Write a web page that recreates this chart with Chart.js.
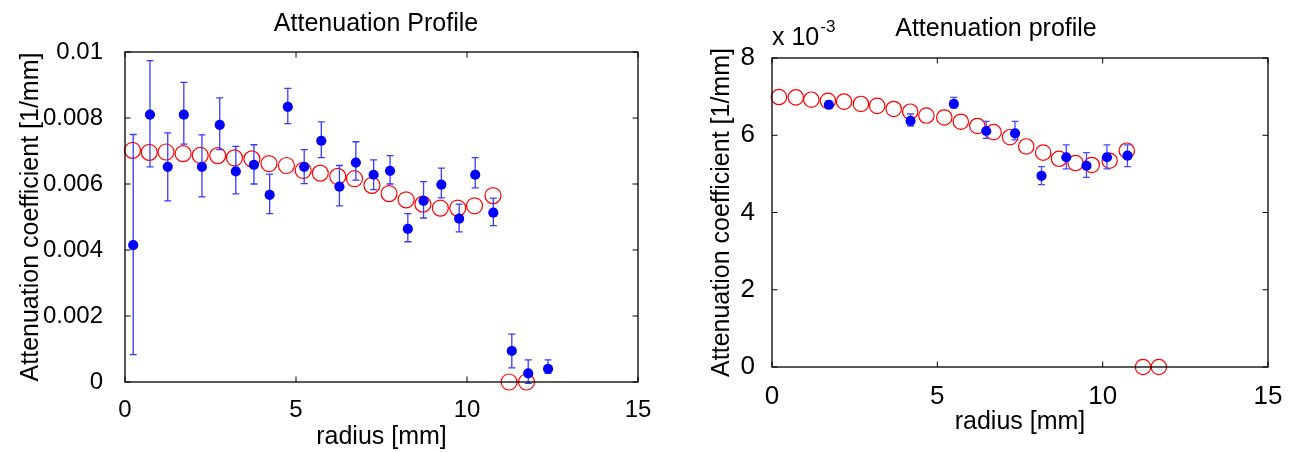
<!DOCTYPE html>
<html><head><meta charset="utf-8">
<script src="https://cdn.jsdelivr.net/npm/chart.js@4.4.0/dist/chart.umd.min.js"></script>
<style>
html,body{margin:0;padding:0;background:#fff;}
#wrap{position:relative;width:1294px;height:452px;background:#fff;}
canvas{position:absolute;left:0;top:0;}
</style></head><body>
<div id="wrap"><canvas id="c1" width="1294" height="452"></canvas><canvas id="c2" width="1294" height="452"></canvas></div>
<script>
// ---------- data: left panel ----------
const leftTitle = 'Attenuation Profile';
const rightTitle = 'Attenuation profile';
const xLabel = 'radius [mm]';
const yLabel = 'Attenuation coefficient [1/mm]';
const xTickValues = [0, 5, 10, 15];
const xTickLabels = ['0', '5', '10', '15'];
const leftYTickValues = [0, 0.002, 0.004, 0.006, 0.008, 0.01];
const leftYTickLabels = ['0', '0.002', '0.004', '0.006', '0.008', '0.01'];
const rightYTickValues = [0, 0.002, 0.004, 0.006, 0.008];
const rightYTickLabels = ['0', '2', '4', '6', '8'];

const leftMeasRadius = [0.24,0.73,1.25,1.72,2.25,2.77,3.24,3.77,4.23,4.76,5.24,5.74,6.27,6.75,7.27,7.75,8.27,8.73,9.25,9.77,10.24,10.77,11.31,11.79,12.37];
const leftMeasAtten  = [0.00415,0.0081,0.00652,0.0081,0.00652,0.00779,0.00638,0.00658,0.00567,0.00834,0.00652,0.00731,0.00592,0.00665,0.00628,0.0064,0.00464,0.00549,0.00598,0.00495,0.00628,0.00513,0.00094,0.00026,0.0004];
const leftErrUp      = [0.00335,0.00164,0.00103,0.00098,0.00097,0.00082,0.00076,0.00061,0.00063,0.00056,0.00052,0.00057,0.00064,0.00063,0.00045,0.00046,0.00046,0.00058,0.0005,0.00044,0.00052,0.00044,0.00051,0.00041,0.00027];
const leftErrDown    = [0.00332,0.00158,0.00103,0.00089,0.00091,0.00075,0.00068,0.00058,0.00057,0.00051,0.00051,0.00051,0.00058,0.00053,0.00045,0.0004,0.00039,0.00052,0.0004,0.0004,0.0004,0.00039,0.00051,0.0003,0.00014];
const leftModelRadius = [0.22,0.71,1.2,1.7,2.2,2.71,3.2,3.71,4.21,4.72,5.21,5.71,6.22,6.71,7.22,7.72,8.22,8.71,9.22,9.73,10.22,10.76,11.23,11.74];
const leftModelAtten  = [0.00702,0.00696,0.00697,0.00692,0.00687,0.00686,0.00679,0.00676,0.00662,0.00656,0.00641,0.00633,0.00623,0.00616,0.00596,0.00571,0.00552,0.00539,0.00527,0.00527,0.00534,0.00565,0,0];

// ---------- data: right panel ----------
const rightMeasRadius = [1.72,4.19,5.5,6.48,7.35,8.15,8.9,9.51,10.13,10.75];
const rightMeasAtten  = [0.00679,0.00637,0.00681,0.00611,0.00605,0.00495,0.00543,0.00521,0.00543,0.00547];
const rightErrUp      = [0.0001,0.00018,0.00017,0.00025,0.00031,0.00024,0.00032,0.00034,0.00032,0.00028];
const rightErrDown    = [0.0001,0.00013,0.0001,0.00019,0.00017,0.00023,0.0003,0.0003,0.0003,0.00028];
const rightModelRadius = [0.21,0.72,1.19,1.69,2.18,2.69,3.18,3.68,4.18,4.67,5.21,5.71,6.21,6.7,7.2,7.69,8.2,8.68,9.18,9.67,10.21,10.73,11.22,11.7];
const rightModelAtten  = [0.00699,0.00698,0.00692,0.00689,0.00687,0.00681,0.00676,0.00668,0.00661,0.00651,0.00646,0.00635,0.00624,0.00608,0.00595,0.00571,0.00555,0.00539,0.00528,0.00523,0.00534,0.0056,0,0];

const FONT = '"Liberation Sans", Arial, Helvetica, sans-serif';

const boxPlugin = {
  id: 'matlabBox',
  afterDraw(chart) {
    const ctx = chart.ctx, a = chart.chartArea, sx = chart.scales.x, sy = chart.scales.y;
    const tl = 5.5;
    ctx.save();
    ctx.strokeStyle = '#000';
    ctx.lineWidth = 1.3;
    ctx.strokeRect(a.left, a.top, a.right - a.left, a.bottom - a.top);
    ctx.beginPath();
    sx.ticks.forEach(t => {
      const p = sx.getPixelForValue(t.value);
      ctx.moveTo(p, a.bottom); ctx.lineTo(p, a.bottom - tl);
      ctx.moveTo(p, a.top); ctx.lineTo(p, a.top + tl);
    });
    sy.ticks.forEach(t => {
      const p = sy.getPixelForValue(t.value);
      ctx.moveTo(a.left, p); ctx.lineTo(a.left + tl, p);
      ctx.moveTo(a.right, p); ctx.lineTo(a.right - tl, p);
    });
    ctx.lineWidth = 1;
    ctx.stroke();
    ctx.restore();
  }
};

const errPlugin = {
  id: 'errBars',
  afterDatasetDraw(chart, args, opts) {
    if (args.index !== 1) return; // after the model circles, before the measured dots
    const ctx = chart.ctx, sx = chart.scales.x, sy = chart.scales.y;
    const cap = 3.5;
    ctx.save();
    ctx.strokeStyle = opts.color;
    ctx.lineWidth = 1.3;
    ctx.beginPath();
    opts.xs.forEach((xv, i) => {
      const px = sx.getPixelForValue(xv);
      const y1 = sy.getPixelForValue(opts.ys[i] + opts.up[i]);
      const y2 = sy.getPixelForValue(opts.ys[i] - opts.dn[i]);
      ctx.moveTo(px, y1); ctx.lineTo(px, y2);
      ctx.moveTo(px - cap, y1); ctx.lineTo(px + cap, y1);
      ctx.moveTo(px - cap, y2); ctx.lineTo(px + cap, y2);
    });
    ctx.stroke();
    ctx.restore();
  }
};

const textPlugin = {
  id: 'panelText',
  afterDraw(chart, args, opts) {
    const ctx = chart.ctx;
    ctx.save();
    ctx.fillStyle = '#000';
    ctx.font = opts.titleSize + 'px ' + FONT;
    ctx.textAlign = 'center';
    ctx.textBaseline = 'alphabetic';
    ctx.fillText(opts.title, opts.tx, opts.ty);
    if (opts.exp) {
      ctx.textAlign = 'left';
      ctx.font = opts.expSize + 'px ' + FONT;
      const base = 'x 10';
      ctx.fillText(base, opts.ex, opts.ey);
      const w = ctx.measureText(base).width;
      ctx.font = Math.round(opts.expSize * 0.68) + 'px ' + FONT;
      ctx.fillText(opts.exp, opts.ex + w + 1, opts.ey - 13);
    }
    ctx.restore();
  }
};

function makePanel(id, p) {
  return new Chart(document.getElementById(id), {
    type: 'scatter',
    data: {
      datasets: [
        { data: p.measX.map((x, i) => ({x, y: p.measY[i]})), pointRadius: 5.1, pointHoverRadius: 5.1,
          backgroundColor: '#0000ff', borderColor: '#0000ff', borderWidth: 0, showLine: false },
        { data: p.modX.map((x, i) => ({x, y: p.modY[i]})), pointRadius: p.circR, pointHoverRadius: p.circR,
          backgroundColor: 'rgba(0,0,0,0)', borderColor: '#ff0000', borderWidth: 1.2, showLine: false, clip: false }
      ]
    },
    options: {
      responsive: false, animation: false, events: [],
      layout: { padding: { left: p.padL, right: p.padR, top: p.padT, bottom: 0 } },
      plugins: {
        legend: { display: false }, tooltip: { enabled: false }, title: { display: false },
        errBars: { xs: p.measX, ys: p.measY, up: p.up, dn: p.dn, color: p.errColor },
        panelText: p.text
      },
      scales: {
        x: {
          type: 'linear', min: 0, max: 15,
          afterBuildTicks: s => { s.ticks = xTickValues.map(v => ({value: v})); },
          afterFit: s => { s.height = p.xH; },
          grid: { display: false }, border: { display: false },
          ticks: { color: '#000', font: { family: FONT, size: p.tickSize }, padding: 6, maxRotation: 0,
                   callback: (v, i) => xTickLabels[i] },
          title: { display: true, text: xLabel, color: '#000', font: { family: FONT, size: p.labSize },
                   padding: { top: 0, bottom: p.xTitlePadB } }
        },
        y: {
          type: 'linear', min: 0, max: p.yMax,
          afterBuildTicks: s => { s.ticks = p.yTicks.map(v => ({value: v})); },
          afterFit: s => { s.width = 125; },
          grid: { display: false }, border: { display: false },
          ticks: { color: '#000', font: { family: FONT, size: p.tickSize }, padding: p.yTickPad,
                   callback: (v, i) => p.yLabels[i] },
          title: { display: true, text: yLabel, color: '#000', font: { family: FONT, size: p.labSize },
                   padding: { top: p.yTitlePadT, bottom: 0 } }
        }
      }
    },
    plugins: [errPlugin, boxPlugin, textPlugin]
  });
}

makePanel('c1', {
  measX: leftMeasRadius, measY: leftMeasAtten, up: leftErrUp, dn: leftErrDown,
  modX: leftModelRadius, modY: leftModelAtten, circR: 8,
  padL: 0, padR: 1294 - 638, padT: 52, xH: 70, xTitlePadB: 0,
  yMax: 0.01, yTicks: leftYTickValues, yLabels: leftYTickLabels, yTickPad: 14, yTitlePadT: 16,
  tickSize: 24, labSize: 25, errColor: '#3a3aff',
  text: { title: leftTitle, titleSize: 25, tx: 376, ty: 31, exp: null }
});

makePanel('c2', {
  measX: rightMeasRadius, measY: rightMeasAtten, up: rightErrUp, dn: rightErrDown,
  modX: rightModelRadius, modY: rightModelAtten, circR: 7.7,
  padL: 647, padR: 1294 - 1268, padT: 58, xH: 85, xTitlePadB: 15,
  yMax: 0.008, yTicks: rightYTickValues, yLabels: rightYTickLabels, yTickPad: 9, yTitlePadT: 60,
  tickSize: 26, labSize: 25, errColor: '#4a4aff',
  text: { title: rightTitle, titleSize: 25, tx: 996, ty: 36, exp: '-3', expSize: 25, ex: 772, ey: 45 }
});
</script>
</body></html>
